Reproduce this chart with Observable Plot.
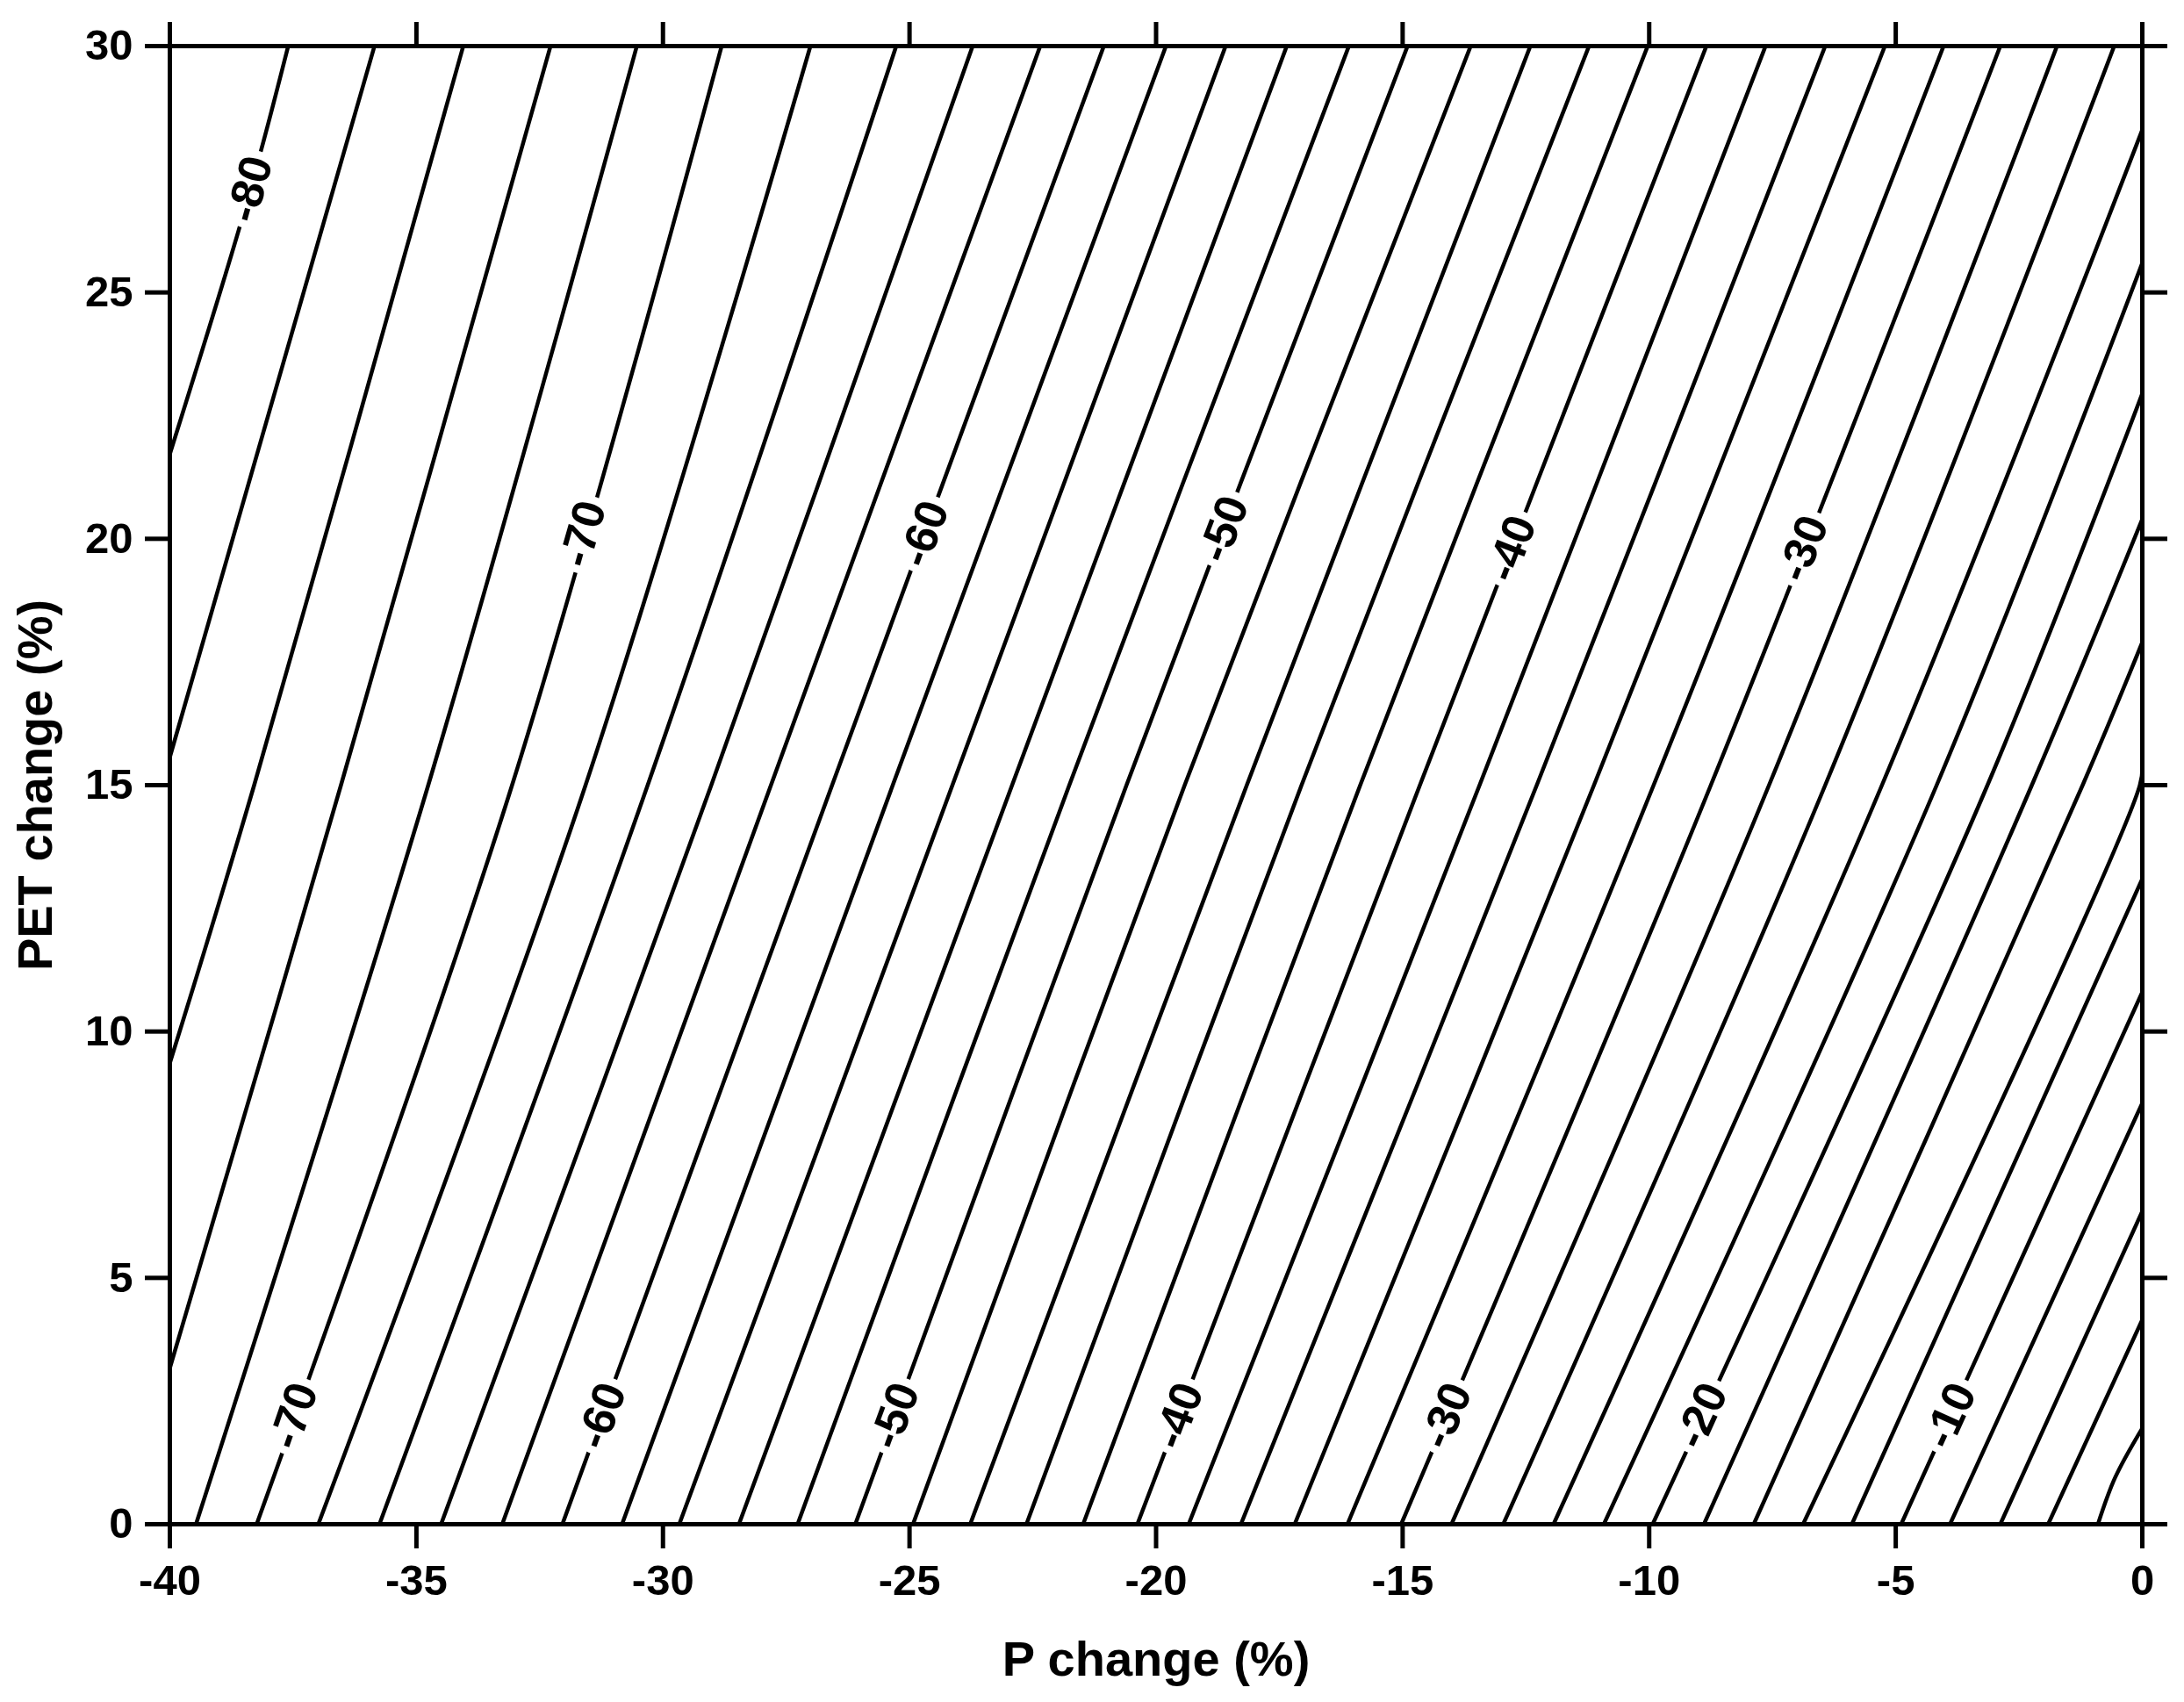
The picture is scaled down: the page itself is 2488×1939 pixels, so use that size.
<!DOCTYPE html>
<html><head><meta charset="utf-8">
<script src="https://cdn.jsdelivr.net/npm/d3@7"></script>
<script src="https://cdn.jsdelivr.net/npm/@observablehq/plot@0.6"></script>
<style>
html,body{margin:0;padding:0;background:#fff;}
#chart svg{display:block;}
</style>
</head><body><div id="chart"></div>
<script>
// ---- Data ----
const xTicks = [-40, -35, -30, -25, -20, -15, -10, -5, 0];
const yTicks = [0, 5, 10, 15, 20, 25, 30];

// Contour crossings of the bottom edge (PET change = 0)
const bottomLevels = [-72,-70,-68,-66,-64,-62,-60,-58,-56,-54,-52,-50,-48,-46,-44,-42,-40,-38,-36,-34,-32,-30,-28,-26,-24,-22,-20,-18,-16,-14,-12,-10,-8,-6,-4,-2];
const bottomX = [-39.47,-38.24,-36.99,-35.75,-34.50,-33.26,-32.04,-30.83,-29.67,-28.46,-27.27,-26.10,-24.93,-23.77,-22.63,-21.48,-20.38,-19.34,-18.28,-17.19,-16.12,-15.03,-14.01,-12.96,-11.94,-10.92,-9.93,-8.89,-7.88,-6.88,-5.89,-4.89,-3.90,-2.88,-1.91,-0.90];

// Contour crossings of PET change = 15
const midLevels = [-76,-74,-72,-70,-68,-66,-64,-62,-60,-58,-56,-54,-52,-50,-48,-46,-44,-42,-40,-38,-36,-34,-32,-30,-28,-26,-24,-22,-20,-18,-16,-14];
const midX = [-38.29,-36.53,-34.76,-33.06,-31.57,-30.31,-29.02,-27.81,-26.57,-25.34,-24.13,-22.92,-21.76,-20.60,-19.42,-18.16,-17.05,-15.86,-14.65,-13.44,-12.28,-11.12,-9.91,-8.75,-7.57,-6.43,-5.28,-4.17,-3.14,-2.24,-1.21,-0.05];
const midY = 15;

// Contour crossings of the top edge (PET change = 30)
const topLevels = [-80,-78,-76,-74,-72,-70,-68,-66,-64,-62,-60,-58,-56,-54,-52,-50,-48,-46,-44,-42,-40,-38,-36,-34,-32,-30,-28,-26];
const topX = [-37.60,-35.85,-34.05,-32.28,-30.53,-28.81,-27.01,-25.27,-23.72,-22.35,-21.06,-19.80,-18.59,-17.35,-16.09,-14.90,-13.62,-12.41,-11.22,-10.03,-8.84,-7.64,-6.43,-5.22,-4.03,-2.88,-1.73,-0.57];

// Contour crossings of the left edge (P change = -40)
const leftLevels = [-80, -78, -76, -74];
const leftY = [21.72, 15.57, 9.36, 3.17];

// Contour crossings of the right edge (P change = 0)
const rightLevels = [-24,-22,-20,-18,-16,-14,-12,-10,-8,-6,-4,-2];
const rightY = [28.3, 25.6, 22.95, 20.4, 17.9, 15.45, 13.1, 10.8, 8.55, 6.35, 4.15, 1.95];

// A few extra points read along curved parts
const extraLevels = [-80, -80, -2];
const extraX = [-38.64, -38.10, -0.55];
const extraY = [26.14, 28.07, 0.95];

// Contour labels: level and PET change where the label sits
const labelLevels = [-70, -60, -50, -40, -30, -20, -10, -80, -70, -60, -50, -40, -30];
const labelY = [2.2, 2.2, 2.2, 2.2, 2.2, 2.2, 2.2, 27.1, 20.1, 20.1, 20.2, 19.8, 19.8];

const xLabel = "P change (%)";
const yLabel = "PET change (%)";

// ---- Build point table ----
const xMin = -40, xMax = 0, yMin = 0, yMax = 30;
const rows = [];
bottomLevels.forEach((l, i) => rows.push({level: l, x: bottomX[i], y: yMin}));
midLevels.forEach((l, i) => rows.push({level: l, x: midX[i], y: midY}));
topLevels.forEach((l, i) => rows.push({level: l, x: topX[i], y: yMax}));
leftLevels.forEach((l, i) => rows.push({level: l, x: xMin, y: leftY[i]}));
rightLevels.forEach((l, i) => rows.push({level: l, x: xMax, y: rightY[i]}));
extraLevels.forEach((l, i) => rows.push({level: l, x: extraX[i], y: extraY[i]}));
rows.sort((a, b) => a.level - b.level || a.y - b.y);

const byLevel = d3.group(rows, d => d.level);

// ---- Layout ----
const W = 2488, H = 1939;
const mL = 193, mR = 48, mT = 52, mB = 203;
const kx = (W - mL - mR) / (xMax - xMin);
const ky = (H - mT - mB) / (yMax - yMin);

function labelAt(level, y) {
  const pts = byLevel.get(level);
  let i = 1;
  while (i < pts.length - 1 && pts[i].y < y) i++;
  const a = pts[i - 1], b = pts[i];
  const t = (y - a.y) / (b.y - a.y);
  const x = a.x + t * (b.x - a.x);
  const ang = Math.atan2((b.y - a.y) * ky, (b.x - a.x) * kx) * 180 / Math.PI;
  return {x, y, text: String(level), rotate: -ang};
}
const labels = labelLevels.map((l, i) => labelAt(l, labelY[i]));

const font = "'Liberation Sans', Arial, Helvetica, sans-serif";

const chart = Plot.plot({
  width: W, height: H,
  marginLeft: mL, marginRight: mR, marginTop: mT, marginBottom: mB,
  style: {fontFamily: font, background: "#fff", color: "#000", overflow: "visible"},
  x: {domain: [xMin, xMax], label: null},
  y: {domain: [yMin, yMax], label: null},
  marks: [
    Plot.line(rows, {x: "x", y: "y", z: "level", curve: "catmull-rom", stroke: "#000", strokeWidth: 4.5, clip: true}),
    Plot.text(labels, {x: "x", y: "y", text: "text", rotate: "rotate", fontSize: 52, fontWeight: "bold",
      fill: "#000", stroke: "#fff", strokeWidth: 18, paintOrder: "stroke", textAnchor: "middle", lineAnchor: "middle"}),
    Plot.frame({stroke: "#000", strokeWidth: 5}),
    Plot.axisX({anchor: "bottom", ticks: xTicks, tickSize: 28, tickPadding: 18, strokeWidth: 5,
      tickFormat: d => String(d), fontSize: 49, fontWeight: "bold", label: null}),
    Plot.axisX({anchor: "top", ticks: xTicks, tickSize: 28, strokeWidth: 5, tickFormat: () => "", label: null}),
    Plot.axisY({anchor: "left", ticks: yTicks, tickSize: 28, tickPadding: 14, strokeWidth: 5,
      tickFormat: d => String(d), fontSize: 49, fontWeight: "bold", label: null}),
    Plot.axisY({anchor: "right", ticks: yTicks, tickSize: 28, strokeWidth: 5, tickFormat: () => "", label: null}),
    Plot.text([xLabel], {frameAnchor: "bottom", dy: 155, fontSize: 56, fontWeight: "bold", textAnchor: "middle", lineAnchor: "middle"}),
    Plot.text([yLabel], {frameAnchor: "left", dx: -152, rotate: -90, fontSize: 56, fontWeight: "bold", textAnchor: "middle", lineAnchor: "middle"})
  ]
});
document.getElementById("chart").appendChild(chart);
</script>
</body></html>
